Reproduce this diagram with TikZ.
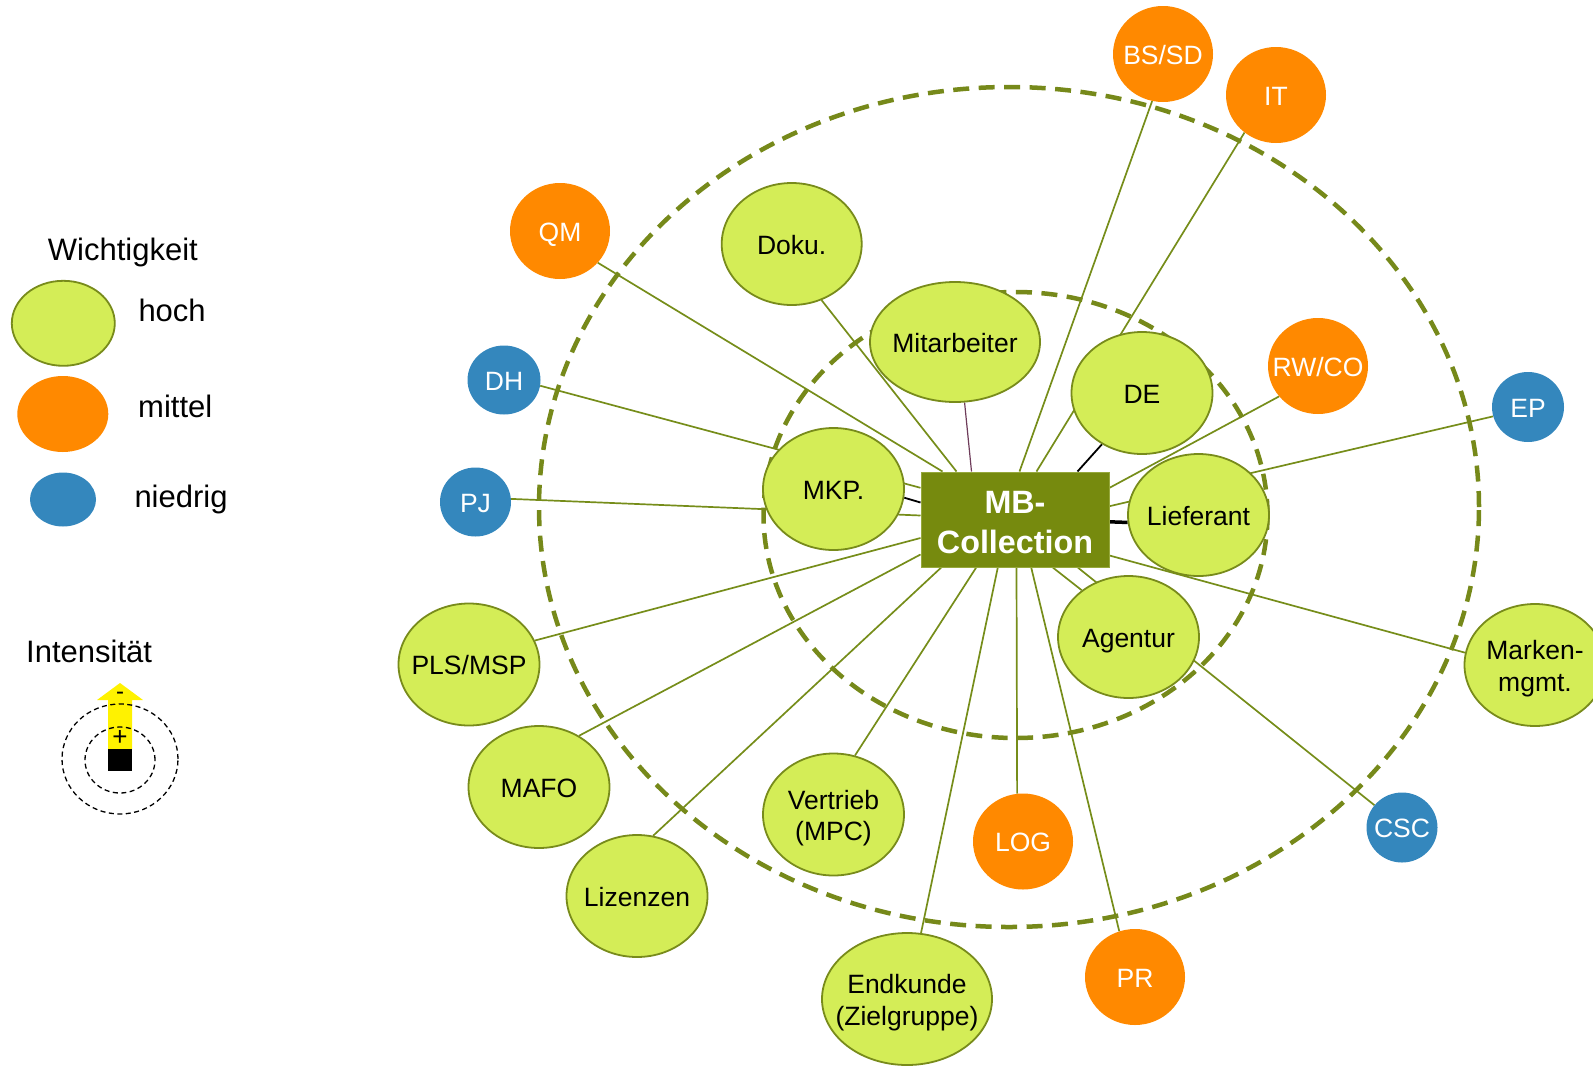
\documentclass[tikz,border=0pt]{standalone}
\usepackage{fontspec}
\setmainfont{Liberation Sans}
\usetikzlibrary{calc,backgrounds,shapes.geometric}

\definecolor{limefill}{RGB}{212,237,87}
\definecolor{oliveedge}{RGB}{120,139,27}
\definecolor{boxfill}{RGB}{118,138,14}
\definecolor{boxedge}{RGB}{150,168,60}
\definecolor{orangefill}{RGB}{255,137,0}
\definecolor{bluefill}{RGB}{52,135,189}
\definecolor{linkolive}{RGB}{118,141,26}
\definecolor{ringolive}{RGB}{118,137,26}
\definecolor{linkmauve}{RGB}{110,60,90}

% centred text of zero width, so the label never widens its ellipse;
% the optional argument lowers the glyphs a little (box size unchanged)
\newcommand{\mbtext}[2][-4pt]{\raisebox{#1}[\height][\depth]{\makebox[0pt]{\begin{tabular}{@{}c@{}}#2\end{tabular}}}}

\begin{document}
\begin{tikzpicture}[x=1pt,y=-1pt,
  nodefont/.style={font=\fontsize{26.5}{31.7}\selectfont},
  hoch/.style={nodefont, shape=ellipse, draw=oliveedge, line width=1.8pt, fill=limefill,
    inner sep=0pt, minimum width=141pt, minimum height=122pt, text=black},
  mittel/.style={nodefont, shape=ellipse, fill=orangefill, inner sep=0pt,
    minimum width=100pt, minimum height=96pt, text=white},
  niedrig/.style={nodefont, shape=ellipse, fill=bluefill, inner sep=0pt,
    minimum width=72pt, minimum height=70pt, text=white},
  mbbox/.style={fill=boxfill, draw=boxedge, line width=1pt, inner sep=0pt,
    minimum width=188pt, minimum height=95pt, text=white,
    font=\fontsize{32.3}{39.5}\selectfont\bfseries},
  link/.style={draw=linkolive, line width=1.7pt},
  darklink/.style={draw=black, line width=1.8pt},
  ring/.style={draw=ringolive, line width=4.5pt, dash pattern=on 16pt off 9.5pt},
  legtext/.style={anchor=base west, inner sep=0pt, font=\fontsize{31}{36}\selectfont},
  thinring/.style={draw=black, line width=1.3pt, dash pattern=on 5pt off 3.5pt},
]
\useasboundingbox (0,0) rectangle (1593,1066);

% ---- centre ----
\node[mbbox] (c) at (1015,519.5) {\mbtext[-6pt]{MB-\\Collection}};

% ---- important partners (inner ring) ----
\node[hoch] (mkp)  at (833.5,489) {\mbtext{MKP.}};
\node[hoch, minimum width=170pt, minimum height=120pt] (mit) at (955,342) {\mbtext{Mitarbeiter}};
\node[hoch] (de)   at (1142,393) {\mbtext{DE}};
\node[hoch] (lief) at (1198.5,515) {\mbtext{Lieferant}};
\node[hoch] (agt)  at (1128.5,637) {\mbtext{Agentur}};

% ---- important partners (outer ring) ----
\node[hoch, minimum width=140pt] (doku) at (791.7,244) {\mbtext{Doku.}};
\node[hoch] (pls)  at (469,664.5) {\mbtext{PLS/MSP}};
\node[hoch] (mafo) at (539,787) {\mbtext{MAFO}};
\node[hoch] (liz)  at (637,896) {\mbtext{Lizenzen}};
\node[hoch] (vert) at (833.5,814.5) {\mbtext{Vertrieb\\(MPC)}};
\node[hoch, minimum width=170pt, minimum height=132pt] (endk) at (907,999) {\mbtext{Endkunde\\(Zielgruppe)}};
\node[hoch] (mark) at (1535,665) {\mbtext{Marken-\\mgmt.}};

% ---- medium ----
\node[mittel] (qm)   at (560,231)   {\mbtext{QM}};
\node[mittel] (bssd) at (1163,54)   {\mbtext{BS/SD}};
\node[mittel] (it)   at (1276,95)   {\mbtext{IT}};
\node[mittel] (rwco) at (1318,366)  {\mbtext{RW/CO}};
\node[mittel] (log)  at (1023,841.5) {\mbtext{LOG}};
\node[mittel] (pr)   at (1135,977)  {\mbtext{PR}};

% ---- low ----
\node[niedrig, minimum width=73pt, minimum height=69pt] (dh) at (504,380) {\mbtext{DH}};
\node[niedrig, minimum width=71pt, minimum height=69pt] (pj) at (475.5,502) {\mbtext{PJ}};
\node[niedrig] (ep)  at (1528,407)  {\mbtext{EP}};
\node[niedrig, minimum width=71pt] (csc) at (1402,827.5) {\mbtext{CSC}};

% ---- connectors and rings behind the nodes ----
\begin{scope}[on background layer]
  % top edge of the centre box
  \draw[link]  ($(c.north west)+(22,0)$)  -- (qm.-40);
  \draw[link]  ($(c.north west)+(36,0)$)  -- (doku.-62);
  \draw[draw=linkmauve, line width=1.2pt] ($(c.north west)+(51,0)$) -- (mit.-81);
  \draw[link]  ($(c.north west)+(99,0)$)  -- (bssd.-103);
  \draw[link]  ($(c.north west)+(116,0)$) -- (it.-130);
  \draw[darklink] ($(c.north west)+(157,0)$) -- (de.-128);
  % right edge
  \draw[link]  ($(c.north east)+(0,16.3)$) -- (rwco.218);
  \draw[link]  ($(c.north east)+(0,34.7)$) -- (ep.195.5);
  \draw[draw=black, line width=3.5pt] ($(c.north east)+(0,50.3)$) -- (lief.186);
  \draw[link]  ($(c.north east)+(0,84)$)   -- (mark.170);
  % bottom edge
  \draw[link]  ($(c.south west)+(20.7,0)$)  -- (liz.75);
  \draw[link]  ($(c.south west)+(55.7,0)$)  -- (vert.70);
  \draw[link]  ($(c.south west)+(77.3,0)$)  -- (endk.78);
  \draw[link]  ($(c.south west)+(96,0)$)    -- (log.97);
  \draw[link]  ($(c.south west)+(110.7,0)$) -- (pr.109.5);
  \draw[link]  ($(c.south west)+(132.3,0)$) -- (agt.135);
  \draw[link]  ($(c.south west)+(157.3,0)$) -- (csc.141);
  % left edge
  \draw[link]  ($(c.north west)+(0,16.3)$) -- (dh.-9);
  \draw[darklink] ($(c.north west)+(0,31)$) -- (mkp.-7);
  \draw[link]  ($(c.north west)+(0,44)$)   -- (pj.5);
  \draw[link]  ($(c.north west)+(0,66.5)$) -- (pls.20);
  \draw[link]  ($(c.north west)+(0,83)$)   -- (mafo.52);
  % importance rings
  \draw[ring] (1009,507) ellipse [x radius=470pt, y radius=420pt];
  \draw[ring] (1015.5,515) ellipse [x radius=252pt, y radius=223pt];
\end{scope}

% ---- legend: importance ----
\node[legtext] (lgtitle) at (47.7,260.7) {Wichtigkeit};
\node[shape=ellipse, draw=oliveedge, line width=1.8pt, fill=limefill, inner sep=0pt,
  minimum width=103pt, minimum height=85pt] (lghoch) at (63.3,323.3) {};
\node[shape=ellipse, fill=orangefill, inner sep=0pt,
  minimum width=91pt, minimum height=76pt] (lgmittel) at (62.8,414) {};
\node[shape=ellipse, fill=bluefill, inner sep=0pt,
  minimum width=66pt, minimum height=54pt] (lgniedrig) at (63,499.5) {};
\node[legtext] (lghochtxt)    at (138.3,321.7) {hoch};
\node[legtext] (lgmitteltxt)  at (138,417)     {mittel};
\node[legtext] (lgniedrigtxt) at (134.3,507)   {niedrig};

% ---- legend: intensity ----
\node[legtext] (lgint) at (26,662.3) {Intensität};
\fill[yellow] (108,749) -- (108,700) -- (97,700) -- (120,683) -- (143,700)
  -- (132,700) -- (132,749) -- cycle;
\fill[black] (108,749) rectangle (132,771);
\draw[thinring] (120,759) ellipse [x radius=58pt, y radius=55pt];
\draw[thinring] (120,760) ellipse [x radius=35pt, y radius=33pt];
\node[inner sep=0pt, font=\fontsize{24}{24}\selectfont] (lgminus) at (120,696) {-};
\node[inner sep=0pt, font=\fontsize{26}{26}\selectfont] (lgplus) at (120,738) {+};
\end{tikzpicture}
\end{document}
